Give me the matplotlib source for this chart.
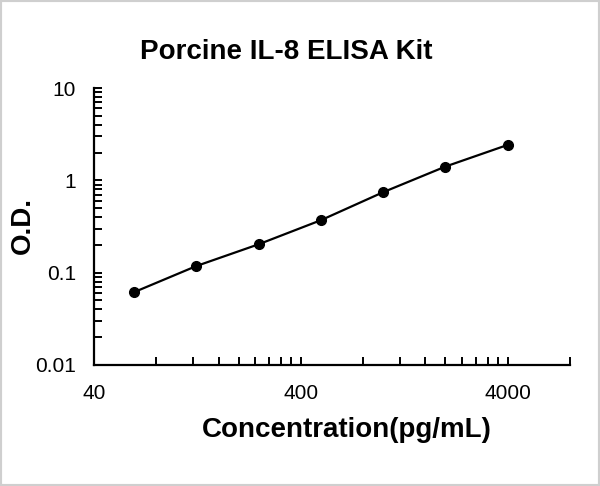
import numpy as np
import matplotlib
matplotlib.use("Agg")
import matplotlib.pyplot as plt
from matplotlib.ticker import FixedLocator, FuncFormatter, LogLocator, NullFormatter
from matplotlib.patches import Rectangle

# standard curve data
conc = [62.5, 125, 250, 500, 1000, 2000, 4000]   # pg/mL
od = [0.0615, 0.118, 0.203, 0.370, 0.744, 1.41, 2.42]

x_major = [40, 400, 4000]
y_major = [0.01, 0.1, 1, 10]

plt.rcParams['font.family'] = ['Liberation Sans', 'DejaVu Sans']

fig = plt.figure(figsize=(6, 4.86), dpi=100)
ax = fig.add_axes([94/600, 1 - 365/486, (570 - 94)/600, (365 - 88)/486])

ax.plot(conc, od, color='black', lw=1.6, marker='o', ms=7, zorder=3)

ax.set_xscale('log')
ax.set_yscale('log')
ax.set_xlim(40, 8000)
ax.set_ylim(0.01, 10)

# x ticks: decades starting at 40, minor at multiples
x_minor = [m * d for d in x_major for m in range(2, 10) if m * d <= 8000]
ax.xaxis.set_major_locator(FixedLocator(x_major))
ax.xaxis.set_minor_locator(FixedLocator(x_minor))
ax.xaxis.set_major_formatter(FuncFormatter(lambda v, p: f"{v:g}"))
ax.xaxis.set_minor_formatter(NullFormatter())

ax.yaxis.set_major_locator(FixedLocator(y_major))
ax.yaxis.set_minor_locator(LogLocator(base=10, subs=range(2, 10)))
ax.yaxis.set_major_formatter(FuncFormatter(lambda v, p: f"{v:g}"))
ax.yaxis.set_minor_formatter(NullFormatter())

ax.tick_params(which='both', direction='in', width=1.4, length=6, labelsize=15)
ax.tick_params(axis='x', which='major', pad=14)
ax.tick_params(axis='y', which='major', pad=13)

for side in ['top', 'right']:
    ax.spines[side].set_visible(False)
for side in ['left', 'bottom']:
    ax.spines[side].set_linewidth(1.6)

fig.text(347/600, 1 - 430/486, "Concentration(pg/mL)", fontsize=20,
         fontweight='bold', ha='center', va='center')
fig.text(23/600, 1 - 226/486, "O.D.", fontsize=20, fontweight='bold',
         rotation=90, ha='center', va='center')
fig.text(286/600, 1 - 52/486, "Porcine IL-8 ELISA Kit", fontsize=20,
         fontweight='bold', ha='center', va='center')

# light grey frame around the image
fig.patches.append(Rectangle((0, 0), 1, 1, transform=fig.transFigure,
                             fill=False, edgecolor='#cfcfcf', lw=3))

fig.savefig("out.png", dpi=100)
